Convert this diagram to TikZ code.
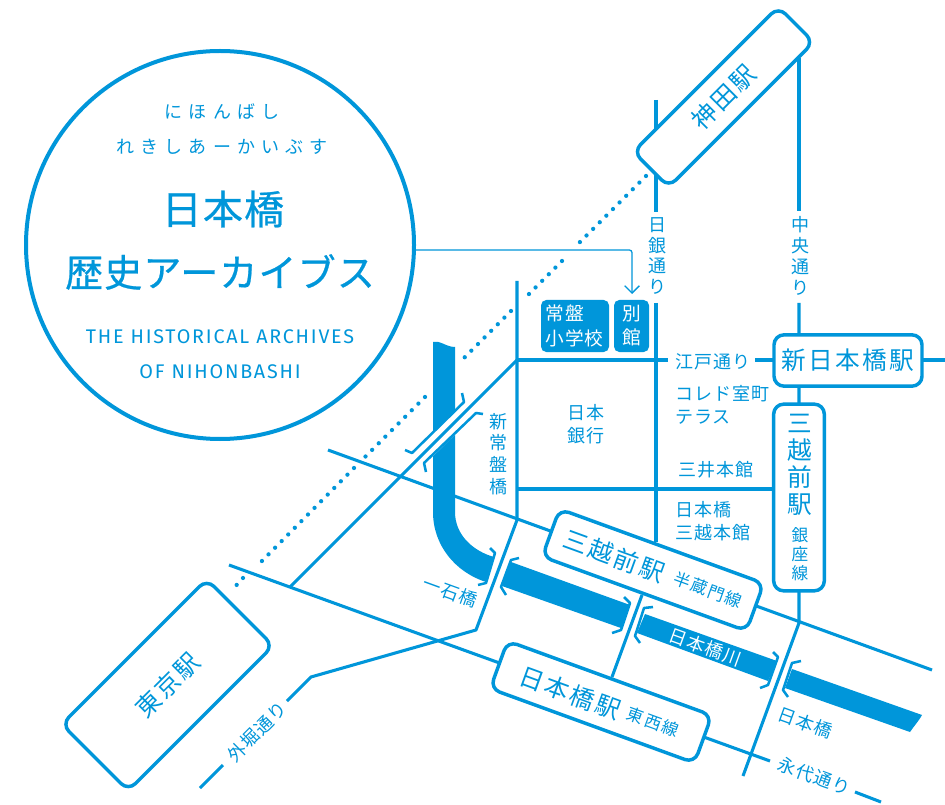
\documentclass[tikz,border=0pt]{standalone}
\usepackage{fontspec}
\usetikzlibrary{arrows.meta,positioning}
\setmainfont{Noto Sans CJK JP}
\newfontfamily\jl{Noto Sans CJK JP}[LetterSpace=6]
\newfontfamily\js{Noto Sans CJK JP}[LetterSpace=9]
\newfontfamily\kana{Noto Sans CJK JP}[LetterSpace=34]
\newfontfamily\ttl{Noto Sans CJK JP}[LetterSpace=3,FakeBold=0.6]
\newfontfamily\lat{Fira Sans}[LetterSpace=9]
\definecolor{bl}{HTML}{0096DA}
\tikzset{
  road/.style={draw=bl,line width=2.3pt,line join=round},
  brk/.style={draw=bl,line width=1.9pt,line join=round},
  dots/.style={draw=bl,line width=3.2pt,line cap=round,dash pattern=on 0.01pt off 7pt},
  river/.style={fill=bl,draw=none},
  stn/.style={draw=bl,fill=white,line width=2.6pt,rounded corners=7.5pt,inner sep=0pt,outer sep=0pt,text=bl,align=center},
  solid box/.style={fill=bl,rounded corners=4pt,inner sep=0pt,outer sep=0pt,text=white,anchor=north west},
  lab/.style={text=bl,inner sep=0pt,outer sep=0pt},
  big/.style={font=\js\fontsize{18.5pt}{22pt}\selectfont},
  small/.style={font=\js\fontsize{12.5pt}{14.3pt}\selectfont},
  mid/.style={font=\jl\fontsize{13.5pt}{17.2pt}\selectfont},
  coord/.style={inner sep=0pt}
}
\begin{document}
\begin{tikzpicture}[x=0.75pt,y=-0.75pt]
\useasboundingbox (0,0) rectangle (945,805);
\fill[white] (0,0) rectangle (945,805);
% river
\path[river] (433,342) .. controls (440,340) and (446,347) .. (455,347) -- (455,512)
  .. controls (455,535) and (473,551) .. (494,557) -- (486,582)
  .. controls (455,572) and (433,545) .. (433,512) -- cycle;
\path[river] (406,430) -- (406,430);
\fill[white] (466,400) -- (412,453) -- (424,465) -- (478,412) -- cycle;
\path[river] (511,562) -- (630,605) -- (621,628) -- (502,586) -- cycle;
\path[river] (645,614) -- (777,661) -- (768,681) -- (637,633) -- cycle;
\path[river] (792,669) -- (922,715) .. controls (918,722) and (914,726) .. (910,732) -- (785,688) -- cycle;
% named points
\coordinate (aL) at (328,450);
\coordinate (aR) at (932,670);
\coordinate (bL) at (229,565);
\coordinate (bLab) at (770,761);
\coordinate (bLab2) at (855,792);
\coordinate (bR) at (881,802);
\coordinate (vT) at (517,281);
\coordinate (j1) at (517,360);
\coordinate (j2) at (517,489);
\coordinate (j3) at (517,520);
\coordinate (k1) at (476,630);
\coordinate (k2) at (311,677);
\coordinate (k3) at (287,701);
\coordinate (k4) at (223,765);
\coordinate (k5) at (200,788);
\coordinate (diag) at (290,587);
\coordinate (edoA) at (668,360);
\coordinate (edoB) at (755,360);
\coordinate (edoC) at (945,360);
\coordinate (ng1) at (656,100);
\coordinate (ng2) at (656,212);
\coordinate (ng3) at (656,303);
\coordinate (ng4) at (656,542);
\coordinate (ch1) at (799,58);
\coordinate (ch2) at (799,211);
\coordinate (ch3) at (799,303);
\coordinate (ch4) at (799,623);
\coordinate (ch5) at (743,776);
\coordinate (mb1) at (642,595);
\coordinate (mb2) at (612,677);
% roads
\draw[road] (aL) -- (aR);
\draw[road] (bL) -- (bLab);
\draw[road] (bLab2) -- (bR);
\draw[road] (vT) -- (j3) -- (k1) -- (k2) -- (k3);
\draw[road] (k4) -- (k5);
\draw[road] (j1) -- (diag);
\draw[road] (j1) -- (edoA);
\draw[road] (edoB) -- (edoC);
\draw[road] (j2) -- (799,489);
\draw[road] (ng1) -- (ng2);
\draw[road] (ng3) -- (ng4);
\draw[road] (ch1) -- (ch2);
\draw[road] (ch3) -- (ch4) -- (ch5);
\draw[road] (mb1) -- (mb2);
% bridge brackets
\draw[brk] (462,393) -- (464,402) -- (412,453) -- (405,450);
\draw[brk] (483,414) -- (476,413) -- (424,463) -- (426,472);
\draw[brk] (490,548) -- (495,553) -- (486,583) -- (478,585);
\draw[brk] (519,558) -- (511,560) -- (501,587) -- (506,595);
\draw[brk] (624,597) -- (630,603) -- (621,630) -- (612,633);
\draw[brk] (653,607) -- (644,608) -- (635,636) -- (640,643);
\draw[brk] (773,652) -- (778,657) -- (768,685) -- (760,688);
\draw[brk] (801,661) -- (792,663) -- (783,690) -- (788,697);
% dotted line
\coordinate (d1) at (646,176); \coordinate (d2) at (579,243);
\coordinate (d3) at (562,261); \coordinate (d4) at (526,297);
\coordinate (d5) at (511,311); \coordinate (d6) at (463,359);
\coordinate (d7) at (425,397); \coordinate (d8) at (365,457);
\coordinate (d9) at (354,468); \coordinate (d10) at (256,567);
\coordinate (d11) at (243,578); \coordinate (d12) at (232,590);
\draw[dots] (d1) -- (d2);
\draw[dots] (d3) -- (d4);
\draw[dots] (d5) -- (d6);
\draw[dots] (d7) -- (d8);
\draw[dots] (d9) -- (d10);
\draw[dots] (d11) -- (d12);
% circle
\node[circle,draw=bl,line width=3pt,minimum size=291pt,inner sep=0pt,outer sep=0pt] (logo) at (220,245) {};
\node[lab,font=\kana\fontsize{13.5pt}{16pt}\selectfont] (k1t) at (222,112) {にほんばし};
\node[lab,font=\kana\fontsize{13.5pt}{16pt}\selectfont] (k2t) at (222,147) {れきしあーかいぶす};
\node[lab,font=\ttl\fontsize{30pt}{34pt}\selectfont] (t1) at (223,209) {日本橋};
\node[lab,font=\ttl\fontsize{28.5pt}{34pt}\selectfont] (t2) at (220,272) {歴史アーカイブス};
\node[lab,font=\lat\fontsize{14.8pt}{18pt}\selectfont] (e1) at (220,337) {THE HISTORICAL ARCHIVES};
\node[lab,font=\lat\fontsize{14.8pt}{18pt}\selectfont] (e2) at (220,372) {OF NIHONBASHI};
% solid boxes
\node[solid box,minimum width=51pt,minimum height=39pt] (sch) at (541,300) {};
\node[solid box,minimum width=26.25pt,minimum height=39pt] (ann) at (614,300) {};
\node[text=white,inner sep=0pt,anchor=west,align=left,font=\jl\fontsize{14pt}{18.6pt}\selectfont] (scht) at (545,326) {常盤\\小学校};
\node[text=white,inner sep=0pt,align=center,font=\jl\fontsize{14pt}{18pt}\selectfont] (annt) at (631.5,326) {別\\館};
% leader
\coordinate (ldr) at (416,250);
\coordinate (ldrE) at (632,294);
\draw[bl,line width=0.95pt,rounded corners=2pt,-{Straight Barb[length=5.5pt,width=11pt,line width=0.95pt]}] (ldr) -- (632,250) -- (ldrE);
% stations
\node[stn,rotate=45,minimum width=153.75pt,minimum height=37.5pt,font=\js\fontsize{18.5pt}{22pt}\selectfont] (kanda) at (723.5,97) {神田駅};
\node[stn,rotate=45,minimum width=153.75pt,minimum height=70.5pt,font=\js\fontsize{18.5pt}{22pt}\selectfont] (tokyo) at (167.5,685) {東京駅};
\node[stn,minimum width=111pt,minimum height=38.5pt,big] (shin) at (848,360.5) {新日本橋駅};
\node[stn,minimum width=38pt,minimum height=140pt] (mg) at (799,497.5) {};
\node[lab,align=center,font=\jl\fontsize{18.5pt}{20.3pt}\selectfont] (mgt) at (800,465) {三\\越\\前\\駅};
\node[lab,align=center,font=\jl\fontsize{12.5pt}{14.2pt}\selectfont] (mgs) at (800,554) {銀\\座\\線};
\node[stn,rotate=-20,minimum width=163pt,minimum height=38pt] (mh) at (653,570) {};
\node[lab,rotate=-20,big] (mht) at (614,556) {三越前駅};
\node[lab,rotate=-20,small] (mhs) at (708,590) {半蔵門線};
\node[stn,rotate=-20,minimum width=163pt,minimum height=38pt] (nt) at (601,702) {};
\node[lab,rotate=-20,big] (ntt) at (570,693) {日本橋駅};
\node[lab,rotate=-20,small] (nts) at (653,722) {東西線};
% labels
\node[lab,mid] (l1) at (713,362) {江戸通り};
\node[lab,mid,anchor=west,align=left] (l2) at (675,405) {コレド室町\\テラス};
\node[lab,mid] (l3) at (716,470) {三井本館};
\node[lab,mid,anchor=west,align=left] (l4) at (675,521) {日本橋\\三越本館};
\node[lab,align=center,font=\jl\fontsize{13.5pt}{15.7pt}\selectfont] (l5) at (657,256) {日\\銀\\通\\り};
\node[lab,align=center,font=\jl\fontsize{13.5pt}{15.7pt}\selectfont] (l6) at (800,256) {中\\央\\通\\り};
\node[lab,align=center,font=\jl\fontsize{13.5pt}{16.3pt}\selectfont] (l7) at (498,454) {新\\常\\盤\\橋};
\node[lab,mid,anchor=west,align=left] (l8) at (567,424) {日本\\銀行};
\node[lab,mid,rotate=-20] (l9) at (450,592) {一石橋};
\node[lab,mid,rotate=45] (l10) at (257,732) {外堀通り};
\node[lab,mid,rotate=-20] (l11) at (805,723) {日本橋};
\node[lab,mid,rotate=-20] (l12) at (814,776) {永代通り};
\node[mid,rotate=-20,text=white,inner sep=0pt] (l13) at (705,647) {日本橋川};
\end{tikzpicture}
\end{document}
